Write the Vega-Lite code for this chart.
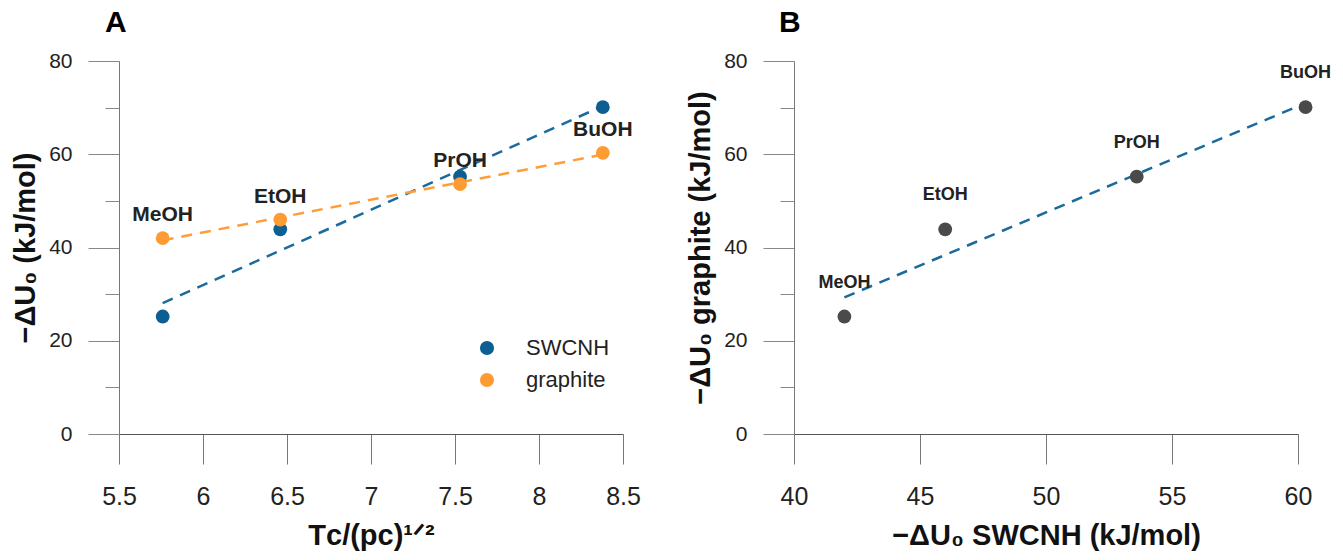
{
  "$schema": "https://vega.github.io/schema/vega-lite/v6.json",
  "padding": {"left": 11, "top": 8, "right": 5, "bottom": 5},
  "background": "white",
  "config": {
    "view": {"stroke": null},
    "font": "Liberation Sans",
    "axis": {"labelColor": "#222", "titleColor": "#111", "tickColor": "#888", "domainColor": "#666", "grid": false},
    "title": {"color": "#000"}
  },
  "datasets": {
    "alc": [
      {"alcohol": "MeOH", "tc": 5.76, "SWCNH": 25.2, "graphite": 42.0},
      {"alcohol": "EtOH", "tc": 6.46, "SWCNH": 43.9, "graphite": 46.0},
      {"alcohol": "PrOH", "tc": 7.53, "SWCNH": 55.2, "graphite": 53.6},
      {"alcohol": "BuOH", "tc": 8.38, "SWCNH": 70.1, "graphite": 60.3}
    ]
  },
  "spacing": 45,
  "hconcat": [
    {
      "width": 504,
      "height": 373,
      "title": {"text": "A", "anchor": "start", "frame": "group", "dx": -14, "fontSize": 30, "fontWeight": "bold", "offset": 12},
      "data": {"name": "alc"},
      "transform": [{"fold": ["SWCNH", "graphite"], "as": ["material", "dU"]}],
      "encoding": {
        "x": {
          "field": "tc", "type": "quantitative",
          "scale": {"domain": [5.5, 8.5], "nice": false, "zero": false},
          "axis": {
            "values": [5.5, 6, 6.5, 7, 7.5, 8, 8.5], "format": "~g",
            "domain": true, "domainColor": "#555", "tickSize": 30, "tickColor": "#777",
            "labelFontSize": 25, "labelPadding": 20, "labelFlush": false, "labelOverlap": false,
            "title": "Tᴄ/(pᴄ)¹ᐟ²", "titleFontSize": 29, "titleFontWeight": "bold", "titlePadding": 12
          }
        },
        "y": {
          "field": "dU", "type": "quantitative",
          "scale": {"domain": [0, 80], "nice": false},
          "axis": {
            "values": [0, 10, 20, 30, 40, 50, 60, 70, 80],
            "labelExpr": "datum.value % 20 === 0 ? datum.label : ''",
            "tickSize": {"condition": {"test": "datum.value % 20 === 0", "value": 31}, "value": 14},
            "tickColor": "#888", "domainColor": "#777",
            "labelFontSize": 21, "labelPadding": 16,
            "title": "−ΔU₀ (kJ/mol)", "titleFontSize": 29, "titleFontWeight": "bold", "titlePadding": 8
          }
        }
      },
      "layer": [
        {
          "transform": [{"filter": "datum.material === 'SWCNH'"}, {"regression": "dU", "on": "tc"}],
          "mark": {"type": "line", "strokeDash": [11, 8], "strokeWidth": 2.5, "color": "#1b6a9e"},
          "encoding": {}
        },
        {
          "transform": [{"filter": "datum.material === 'graphite'"}, {"regression": "dU", "on": "tc"}],
          "mark": {"type": "line", "strokeDash": [11, 8], "strokeWidth": 2.5, "color": "#ff9d3a"},
          "encoding": {}
        },
        {
          "mark": {"type": "circle", "size": 190, "opacity": 1},
          "encoding": {
            "color": {
              "field": "material", "type": "nominal",
              "scale": {"domain": ["SWCNH", "graphite"], "range": ["#0d5f93", "#fe9c33"]},
              "legend": {"orient": "none", "legendX": 357, "legendY": 276, "title": null, "symbolType": "circle", "symbolSize": 200, "symbolStrokeWidth": 0, "labelFontSize": 22, "labelOffset": 28, "rowPadding": 10, "labelColor": "#222", "padding": 0}
            }
          }
        },
        {
          "transform": [{"filter": "datum.material === 'graphite'"}],
          "mark": {"type": "text", "dy": -23, "fontWeight": "bold", "fontSize": 21, "color": "#222"},
          "encoding": {"text": {"field": "alcohol", "type": "nominal"}}
        }
      ]
    },
    {
      "width": 504,
      "height": 373,
      "title": {"text": "B", "anchor": "start", "frame": "group", "dx": -15, "fontSize": 30, "fontWeight": "bold", "offset": 12},
      "data": {"name": "alc"},
      "encoding": {
        "x": {
          "field": "graphite", "type": "quantitative",
          "scale": {"domain": [40, 60], "nice": false, "zero": false},
          "axis": {
            "values": [40, 45, 50, 55, 60], "format": "~g",
            "domain": true, "domainColor": "#555", "tickSize": 30, "tickColor": "#777",
            "labelFontSize": 25, "labelPadding": 20, "labelFlush": false, "labelOverlap": false,
            "title": "−ΔU₀ SWCNH (kJ/mol)", "titleFontSize": 29, "titleFontWeight": "bold", "titlePadding": 12
          }
        },
        "y": {
          "field": "SWCNH", "type": "quantitative",
          "scale": {"domain": [0, 80], "nice": false},
          "axis": {
            "values": [0, 10, 20, 30, 40, 50, 60, 70, 80],
            "labelExpr": "datum.value % 20 === 0 ? datum.label : ''",
            "tickSize": {"condition": {"test": "datum.value % 20 === 0", "value": 31}, "value": 14},
            "tickColor": "#888", "domainColor": "#777",
            "labelFontSize": 21, "labelPadding": 16,
            "title": "−ΔU₀ graphite (kJ/mol)", "titleFontSize": 29, "titleFontWeight": "bold", "titlePadding": 8
          }
        }
      },
      "layer": [
        {
          "transform": [{"regression": "SWCNH", "on": "graphite"}],
          "mark": {"type": "line", "strokeDash": [11, 8], "strokeWidth": 2.5, "color": "#1b6a9e"},
          "encoding": {}
        },
        {
          "mark": {"type": "circle", "size": 190, "opacity": 1, "color": "#4a4a4a"},
          "encoding": {}
        },
        {
          "mark": {"type": "text", "dy": -34, "fontWeight": "bold", "fontSize": 18, "color": "#222"},
          "encoding": {"text": {"field": "alcohol", "type": "nominal"}}
        }
      ]
    }
  ]
}
